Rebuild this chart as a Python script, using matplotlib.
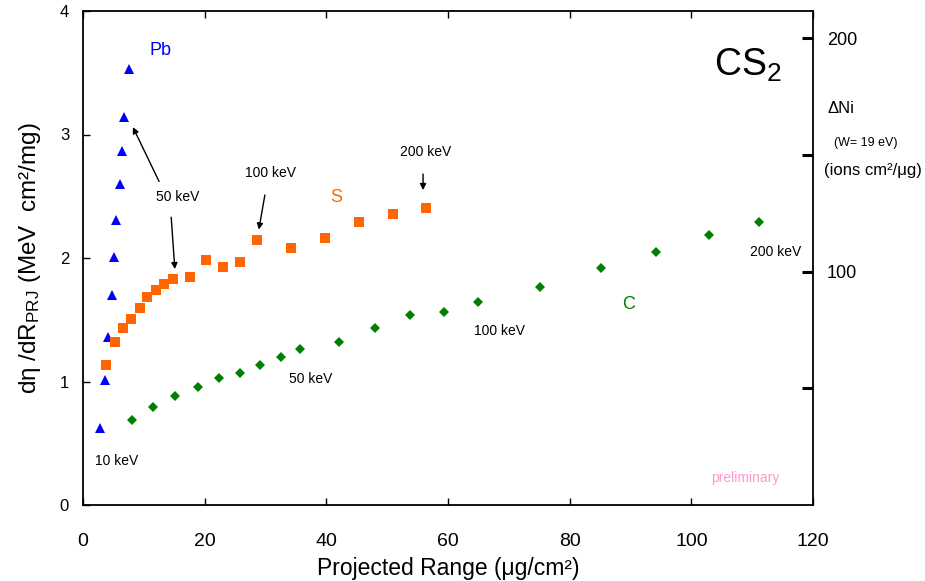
import matplotlib
matplotlib.use("Agg")
import matplotlib.pyplot as plt

plt.rcParams['font.family'] = ['Liberation Sans', 'DejaVu Sans']
plt.rcParams['mathtext.fontset'] = 'custom'
plt.rcParams['mathtext.rm'] = 'Liberation Sans'
plt.rcParams['mathtext.it'] = 'Liberation Sans:italic'

# Pb (triangles)
pb_x = [2.84, 3.55, 4.11, 4.77, 5.03, 5.47, 6.02, 6.41, 6.67, 7.50]
pb_y = [0.62, 1.01, 1.36, 1.70, 2.01, 2.31, 2.60, 2.87, 3.14, 3.53]

# S (squares)
s_x = [3.83, 5.19, 6.51, 7.89, 9.30, 10.57, 12.05, 13.37, 14.73, 17.52,
       20.22, 23.02, 25.86, 28.54, 34.19, 39.83, 45.31, 50.90, 56.32]
s_y = [1.134, 1.322, 1.436, 1.506, 1.593, 1.688, 1.737, 1.787, 1.828, 1.844,
       1.981, 1.925, 1.970, 2.146, 2.079, 2.160, 2.289, 2.354, 2.405]

# C (diamonds)
c_x = [8.06, 11.51, 15.17, 18.84, 22.36, 25.86, 29.15, 32.55, 35.64, 42.02,
       48.05, 53.69, 59.28, 64.87, 75.18, 85.21, 94.20, 102.85, 111.18]
c_y = [0.688, 0.796, 0.885, 0.953, 1.026, 1.066, 1.131, 1.198, 1.266, 1.322,
       1.431, 1.536, 1.563, 1.644, 1.768, 1.923, 2.051, 2.186, 2.291]

x_ticks = [0, 20, 40, 60, 80, 100, 120]
y_ticks = [0, 1, 2, 3, 4]
right_ticks = [50, 100, 150, 200]
right_labels = ['', '100', '', '200']

fig = plt.figure(figsize=(9.25, 5.81), dpi=100)
ax = fig.add_axes([83/925, 1 - 505/581, 730/925, 494/581])

ax.plot(pb_x, pb_y, '^', color='#0000FF', markersize=7.5, markeredgewidth=0)
ax.plot(s_x, s_y, 's', color='#FF6600', markersize=7.5, markeredgewidth=0)
ax.plot(c_x, c_y, 'D', color='#008000', markersize=5, markeredgewidth=0)

ax.set_xlim(0, 120); ax.set_ylim(0, 4)
ax.set_xticks(x_ticks); ax.set_yticks(y_ticks)
ax.tick_params(axis='x', direction='in', top=True, length=5, width=1,
               labelsize=14, pad=20)
ax.tick_params(axis='y', direction='in', length=5, width=1, labelsize=12, pad=10)
for s in ax.spines.values():
    s.set_linewidth(1.3)
ax.set_xlabel('Projected Range (μg/cm²)', fontsize=16.5, labelpad=5)
ax.set_ylabel(r'dη /dR$_{\mathrm{PRJ}}$ (MeV  cm²/mg)', fontsize=17.5, labelpad=12)

ax2 = ax.twinx()
ax2.set_ylim(0, 211.6)
ax2.set_yticks(right_ticks)
ax2.set_yticklabels(right_labels)
ax2.tick_params(axis='y', direction='in', length=8, width=2.2, labelsize=13, pad=10)
for s in ax2.spines.values():
    s.set_visible(False)

# labels
ax.text(12.7, 3.68, 'Pb', color='#0000FF', fontsize=13, ha='center', va='center')
ax.text(41.6, 2.49, 'S', color='#FF6600', fontsize=13, ha='center', va='center')
ax.text(89.6, 1.62, 'C', color='#008000', fontsize=13, ha='center', va='center')
ax.text(109.3, 3.56, 'CS$_2$', fontsize=27, ha='center', va='center')
ax.text(108.8, 0.22, 'preliminary', color='#FF99CC', fontsize=10, ha='center', va='center')

kw = dict(fontsize=10, ha='center', va='center')
ax.text(5.6, 0.36, '10 keV', **kw)
ax.text(15.5, 2.49, '50 keV', **kw)
ax.text(30.9, 2.69, '100 keV', **kw)
ax.text(56.4, 2.86, '200 keV', **kw)
ax.text(37.5, 1.02, '50 keV', **kw)
ax.text(68.4, 1.41, '100 keV', **kw)
ax.text(113.8, 2.05, '200 keV', **kw)

ap = dict(arrowstyle='-|>', color='black', lw=1, mutation_scale=9, shrinkA=0, shrinkB=0)
ax.annotate('', xy=(8.2, 3.06), xytext=(12.5, 2.62), arrowprops=ap)
ax.annotate('', xy=(15.1, 1.91), xytext=(14.5, 2.33), arrowprops=ap)
ax.annotate('', xy=(28.9, 2.23), xytext=(29.9, 2.51), arrowprops=ap)
ax.annotate('', xy=(55.9, 2.55), xytext=(55.9, 2.68), arrowprops=ap)

# right axis title
fig.text(828/925, 1 - 108/581, 'ΔNi', fontsize=12, ha='left', va='center')
fig.text(866/925, 1 - 143/581, '(W= 19 eV)', fontsize=9, ha='center', va='center')
fig.text(873/925, 1 - 170/581, '(ions cm²/μg)', fontsize=12, ha='center', va='center')

fig.savefig('out.png', dpi=100)
